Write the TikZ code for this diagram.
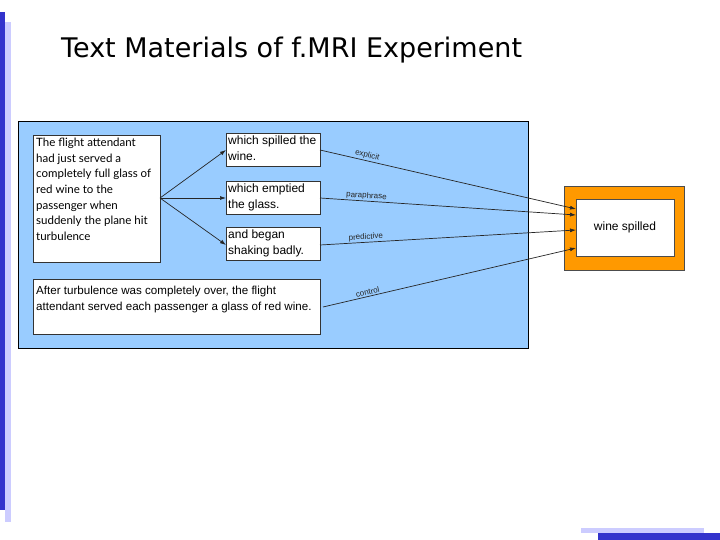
\documentclass[tikz,border=0pt]{standalone}
\usepackage{fontspec}
\setmainfont{Liberation Sans}
\newfontfamily\gill{Lato}
\newfontfamily\tah{DejaVu Sans}
\usetikzlibrary{arrows.meta}
\definecolor{barblue}{RGB}{51,51,204}
\definecolor{barlight}{RGB}{204,204,255}
\definecolor{panel}{RGB}{153,204,255}
\definecolor{orng}{RGB}{255,153,0}
\begin{document}
\begin{tikzpicture}[x=1pt,y=-1pt,
  wbox/.style={draw=black!80,fill=white,line width=0.6pt,anchor=north west,inner sep=0pt},
  txt/.style={anchor=north west,align=left,inner sep=0pt,font=\fontsize{12}{16}\selectfont},
  arr/.style={-{Latex[length=6pt,width=4pt]},line width=0.7pt,black!85},
  lab/.style={font=\fontsize{8}{9}\selectfont,inner sep=1pt,above,sloped}]
\useasboundingbox (0,0) rectangle (720,540);
\fill[white] (0,0) rectangle (720,540);
\fill[barblue] (0,12) rectangle (5,510);
\fill[barlight] (5,22) rectangle (11,522);
\fill[barlight] (581,528) rectangle (704,533);
\fill[barblue] (598,533) rectangle (720,540);
\node[anchor=west,font=\tah\fontsize{27}{30}\selectfont,inner sep=0pt] (title) at (61,50) {Text Materials of f.MRI Experiment};
\draw[fill=panel,line width=0.7pt] (18,121) rectangle (528,348);
\node[wbox,minimum width=127pt,minimum height=127pt] (ctx) at (33,135) {};
\node[txt,font=\gill\fontsize{11.5}{15.6}\selectfont] (ctxt) at (36,138) {The flight attendant\\had just served a\\completely full glass of\\red wine to the\\passenger when\\suddenly the plane hit\\turbulence};
\node[wbox,minimum width=94pt,minimum height=33pt] (b1) at (226,133) {};
\node[txt] (t1) at (228,136) {which spilled the\\wine.};
\node[wbox,minimum width=94pt,minimum height=33pt] (b2) at (226,181) {};
\node[txt] (t2) at (228,184) {which emptied\\the glass.};
\node[wbox,minimum width=94pt,minimum height=33pt] (b3) at (226,227) {};
\node[txt] (t3) at (228,230) {and began\\shaking badly.};
\node[wbox,minimum width=287pt,minimum height=55pt] (ctl) at (33,279) {};
\node[txt,font=\fontsize{11.6}{16}\selectfont] (ctlt) at (36,286) {After turbulence was completely over, the flight\\attendant served each passenger a glass of red wine.};
\draw[fill=orng,draw=black!70] (564,186) rectangle (684,270);
\node[draw=black!70,fill=white,minimum width=98pt,minimum height=57pt,font=\fontsize{12}{14}\selectfont] (ws) at (625,227.5) {wine spilled};
\coordinate (fan) at (160,198);
\draw[arr] (fan) -- (226,150);
\draw[arr] (fan) -- (226,198);
\draw[arr] (fan) -- (226,245);
\coordinate (e1) at (576,209);
\coordinate (e2) at (576,215);
\coordinate (e3) at (576,230);
\coordinate (e4) at (576,248);
\draw[arr] (320,150) -- node[lab,pos=0.18]{explicit} (e1);
\draw[arr] (320,198) -- node[lab,pos=0.18]{paraphrase} (e2);
\draw[arr] (320,245) -- node[lab,pos=0.18]{predictive} (e3);
\draw[arr] (323,307) -- node[lab,pos=0.18]{control} (e4);
\end{tikzpicture}
\end{document}
